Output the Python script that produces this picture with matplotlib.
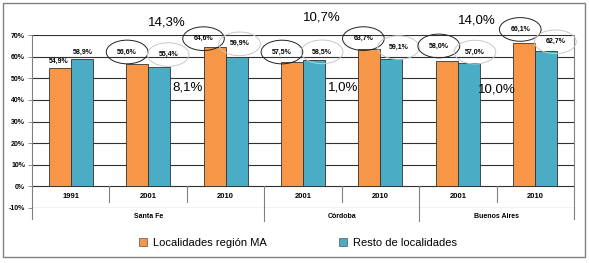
import matplotlib
matplotlib.use('Agg')
import matplotlib.pyplot as plt
from matplotlib.patches import Rectangle
from matplotlib import font_manager

years = ['1991', '2001', '2010', '2001', '2010', '2001', '2010']
provinces = ['Santa Fe', 'Córdoba', 'Buenos Aires']
province_span = [3, 2, 2]
region_ma = [54.9, 56.6, 64.6, 57.5, 63.7, 58.0, 66.1]
resto = [58.9, 55.4, 59.9, 58.5, 59.1, 57.0, 62.7]
changes = ['14,3%', '8,1%', '10,7%', '1,0%', '14,0%', '10,0%']

names = {f.name for f in font_manager.fontManager.ttflist}
narrow = 'Liberation Sans Narrow' if 'Liberation Sans Narrow' in names else 'Liberation Sans'
plt.rcParams['font.family'] = ['Liberation Sans', 'DejaVu Sans']

orange = '#F79646'
blue = '#4BACC6'

def pct(v):
    return ('%.1f%%' % v).replace('.', ',')

fig = plt.figure(figsize=(5.89, 2.63), dpi=100)
ax = fig.add_axes([32/589, 55/263, 542/589, 173/263])

x = list(range(len(years)))
w = 0.285
ax.bar([i - w/2 for i in x], region_ma, w, color=orange, edgecolor='#333333', linewidth=0.6, zorder=3)
ax.bar([i + w/2 for i in x], resto, w, color=blue, edgecolor='#333333', linewidth=0.6, zorder=3)

ax.set_xlim(-0.5, 6.5)
ax.set_ylim(-10, 70)
ax.set_yticks(range(-10, 71, 10))
ax.set_yticklabels(['%d%%' % t for t in range(-10, 71, 10)], fontsize=5, fontweight='bold')
ax.tick_params(axis='y', length=3, width=0.6, color='#808080', pad=2)
ax.set_xticks([])
ax.yaxis.grid(True, color='#303030', linewidth=0.8)
ax.set_axisbelow(True)
for s in ['top', 'bottom']:
    ax.spines[s].set_visible(False)
for s in ['left', 'right']:
    ax.spines[s].set_color('#808080')
    ax.spines[s].set_linewidth(0.8)

# value labels (offsets in pixels from bar top)
off_o = [(-1, 6), (-10, 12), (-11, 8), (-10, 10), (-6, 10), (-8, 15), (-4, 14)]
off_b = [(1, 7), (9, 12), (3, 13), (8, 8), (7, 11), (6, 11), (9, 9)]
for i in x:
    bo = dict(boxstyle='ellipse,pad=0.7', fc='none', ec='#222222', lw=0.7) if i > 0 else None
    bb = dict(boxstyle='ellipse,pad=0.7', fc='none', ec='#c8c8c8', lw=0.7) if i > 0 else None
    ax.annotate(pct(region_ma[i]), (i - w/2, region_ma[i]), xytext=off_o[i],
                textcoords='offset pixels', ha='center', va='center',
                fontsize=5, fontweight='bold', bbox=bo, zorder=5, annotation_clip=False)
    ax.annotate(pct(resto[i]), (i + w/2, resto[i]), xytext=off_b[i],
                textcoords='offset pixels', ha='center', va='center',
                fontsize=5, fontweight='bold', bbox=bb, zorder=5, annotation_clip=False)

# change annotations
cx = [1.244, 1.515, 3.247, 3.518, 5.249, 5.508]
cy = [76.0, 45.6, 78.3, 45.6, 76.9, 44.7]
for t, px, py in zip(changes, cx, cy):
    ax.text(px, py, t, fontsize=9.5, family=narrow, ha='center', va='center', zorder=6)

# multi-level category axis
lc = '#808080'
for i, yr in enumerate(years):
    ax.text(i, -4.6, yr, fontsize=5.5, fontweight='bold', ha='center', va='center')
for b in [0.5, 1.5, 3.5, 5.5]:
    ax.plot([b, b], [0, -7.4], color=lc, lw=0.8, clip_on=False)
start = -0.5
for name, n in zip(provinces, province_span):
    ax.text(start + n/2, -13.8, name, fontsize=5, fontweight='bold', ha='center', va='center')
    start += n
for b in [2.5, 4.5]:
    ax.plot([b, b], [0, -16.1], color=lc, lw=0.8, clip_on=False)
ax.plot([-0.5, -0.5], [-10, -15.2], color=lc, lw=0.8, clip_on=False)
ax.plot([6.5, 6.5], [-10, -15.2], color=lc, lw=0.8, clip_on=False)

h1 = Rectangle((0, 0), 1, 1, fc=orange, ec='#555555', lw=0.5)
h2 = Rectangle((0, 0), 1, 1, fc=blue, ec='#555555', lw=0.5)
fig.legend([h1, h2], ['Localidades región MA', 'Resto de localidades'],
           loc='center', bbox_to_anchor=(298/589, 20/263), ncol=2, frameon=False,
           prop={'family': narrow, 'size': 8}, handlelength=0.72, handleheight=0.72,
           handletextpad=0.55, columnspacing=6.5)

fig.patches.append(Rectangle((3/589, 6/263), 582/589, 254/263, transform=fig.transFigure,
                             fill=False, ec='#808080', lw=1))

fig.savefig('out.png', dpi=100)
